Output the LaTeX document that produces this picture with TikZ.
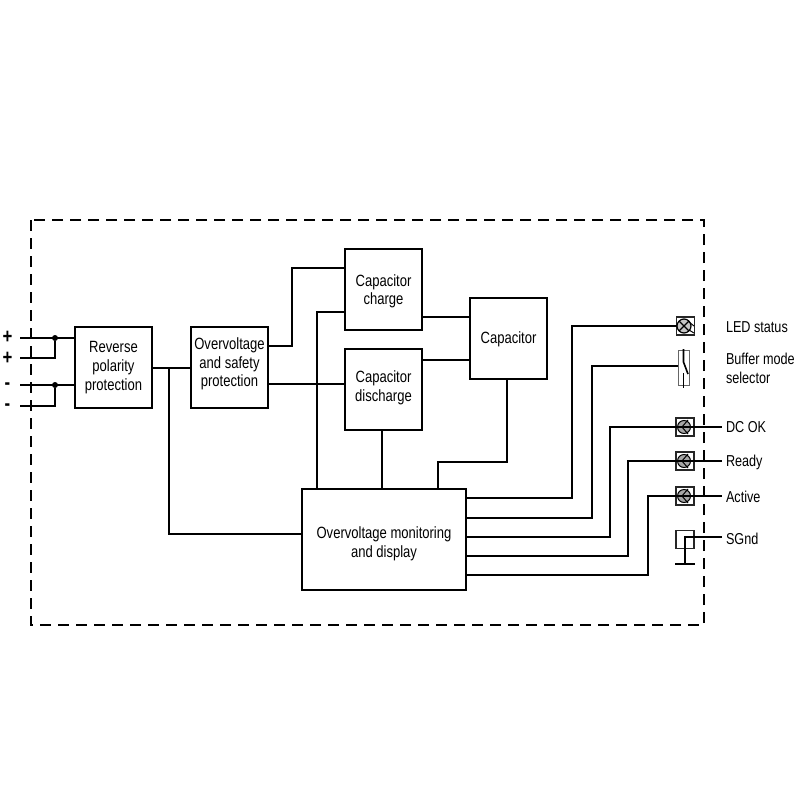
\documentclass[tikz,border=0pt]{standalone}
\usepackage{fontspec}
\setmainfont[FakeStretch=0.8]{Liberation Sans}
\begin{document}
\begin{tikzpicture}[x=1pt,y=-1pt,
  wire/.style={line width=2.5pt,line cap=butt,line join=miter},
  thin wire/.style={line width=1.6pt},
  frame/.style={line width=2.2pt,dash pattern=on 11pt off 7pt},
  block/.style={draw,line width=2.5pt,inner sep=0pt,outer sep=0pt},
  blocktext/.style={align=center,inner sep=0pt,font=\fontsize{16.3}{18.7}\selectfont},
  tag/.style={anchor=west,inner sep=0pt,outer xsep=4pt,align=left,font=\fontsize{15.8}{19}\selectfont},
  sign/.style={inner sep=0pt,font=\fontsize{21}{21}\selectfont\bfseries},
  term/.style={draw,black!85,line width=1.5pt,minimum width=18pt,minimum height=18pt,inner sep=0pt,outer sep=0pt},
  junction/.style={circle,fill,inner sep=0pt,minimum size=6pt}]
\useasboundingbox (0,0) rectangle (800,800);
\draw[frame] (31,220) rectangle (704,625);

% blocks
\node[block,minimum width=77pt,minimum height=81pt,label={[blocktext,yshift=0pt]center:Reverse\\polarity\\protection}] (rev) at (113.5,367.5) {};
\node[block,minimum width=77pt,minimum height=81pt,label={[blocktext,yshift=3.5pt]center:Overvoltage\\and safety\\protection}] (ovs) at (229.5,367.5) {};
\node[block,minimum width=77pt,minimum height=81pt,label={[blocktext,yshift=-1.8pt]center:Capacitor\\charge}] (chg) at (383.5,289.5) {};
\node[block,minimum width=77pt,minimum height=81pt,label={[blocktext,yshift=1.8pt]center:Capacitor\\discharge}] (dis) at (383.5,389.5) {};
\node[block,minimum width=77pt,minimum height=81pt,label={[blocktext,yshift=-1pt]center:Capacitor}] (cap) at (508.5,338.5) {};
\node[block,minimum width=164pt,minimum height=101pt,label={[blocktext,yshift=-4.3pt]center:Overvoltage monitoring\\and display}] (mon) at (384,539.5) {};

% input signs and free ends
\node[sign] (p1) at (7.5,337.5) {+};
\node[sign] (p2) at (7.5,358.5) {+};
\node[sign] (m1) at (7.5,386) {-};
\node[sign] (m2) at (7.5,407) {-};
\coordinate (i1) at (20,338);
\coordinate (i2) at (20,358);
\coordinate (i3) at (20,385);
\coordinate (i4) at (20,406);
\node[junction] (j1) at (55,338) {};
\node[junction] (j2) at (55,385) {};
\coordinate (j3) at (169,368);

\draw[wire] (i1) -- (rev.west |- i1);
\draw[wire] (i2) -| (j1);
\draw[wire] (i3) -- (rev.west |- i3);
\draw[wire] (i4) -| (j2);

\draw[wire] (rev.east |- j3) -- (ovs.west |- j3);
\draw[wire] (j3) |- (mon.west |- 0,534);
\draw[wire] (ovs.east |- 0,346) -| (292,268) -- (chg.west |- 0,268);
\draw[wire] (ovs.east |- 0,384) -- (dis.west |- 0,384);
\draw[wire] (chg.west |- 0,312) -| (mon.north -| 317,0);
\draw[wire] (dis.south -| 382,0) -- (mon.north -| 382,0);
\draw[wire] (chg.east |- 0,317) -- (cap.west |- 0,317);
\draw[wire] (dis.east |- 0,360) -- (cap.west |- 0,360);
\draw[wire] (cap.south -| 507,0) -- (507,462) -| (mon.north -| 438,0);

% right-hand symbols
\node[term] (led) at (685.5,326) {};
\node[term,black!60,minimum width=11pt,minimum height=35pt,line width=1pt] (sw) at (683.5,367.5) {};
\node[term] (dc) at (685,427) {};
\node[term] (rdy) at (685,461) {};
\node[term] (act) at (685,496) {};
\node[term] (sg) at (685,539.5) {};
\coordinate (gnd) at (685,564);
\coordinate (g1) at (675,564);
\coordinate (g2) at (695,564);

% labels
\node[tag] (t1) at (722,327) {LED status};
\node[tag] (t2) at (722,368.5) {Buffer mode\\selector};
\node[tag] (t3) at (722,427) {DC OK};
\node[tag] (t4) at (722,462) {Ready};
\node[tag] (t5) at (722,496.5) {Active};
\node[tag] (t6) at (722,539) {SGnd};

% lamp and transistor symbols
\foreach \cx/\cy in {685/427,685/461,685/496}{
  \fill[gray!70] (\cx-1,\cy) circle (6.5pt);
  \draw[line width=1pt] (\cx-1,\cy) circle (6.5pt);
  \draw[line width=1pt] (\cx+3,\cy-7) -- (\cx-3,\cy) -- (\cx+3,\cy+7);
}
\fill[gray!45] (684,326) circle (7pt);
\draw[line width=1.2pt] (684,326) circle (7pt);
\draw[line width=1.1pt] (679,321) -- (689,331) (679,331) -- (689,321);
\draw[line width=1pt] (689,322) -- (694,326) (689,330) -- (694,333);

% monitoring outputs
\draw[wire] (mon.east |- 0,498) -| (572,326) -- (led.west);
\draw[wire] (mon.east |- 0,518) -| (592,366) -- (sw.west |- 0,366);
\draw[wire] (mon.east |- 0,537) -| (610,427) -- (t3.west);
\draw[wire] (mon.east |- 0,556) -| (628,461) -- (t4.west |- 0,461);
\draw[wire] (mon.east |- 0,575) -| (648,496) -- (t5.west |- 0,496);

% SGnd
\draw[wire,line width=1.8pt] (t6.west |- 0,537) -| (gnd);
\draw[wire] (g1) -- (g2);

% switch
\draw[thin wire] (683.5,349) -- (683.5,362) -- (688,374);
\draw[thin wire] (683.5,373) -- (683.5,388);
\end{tikzpicture}
\end{document}
